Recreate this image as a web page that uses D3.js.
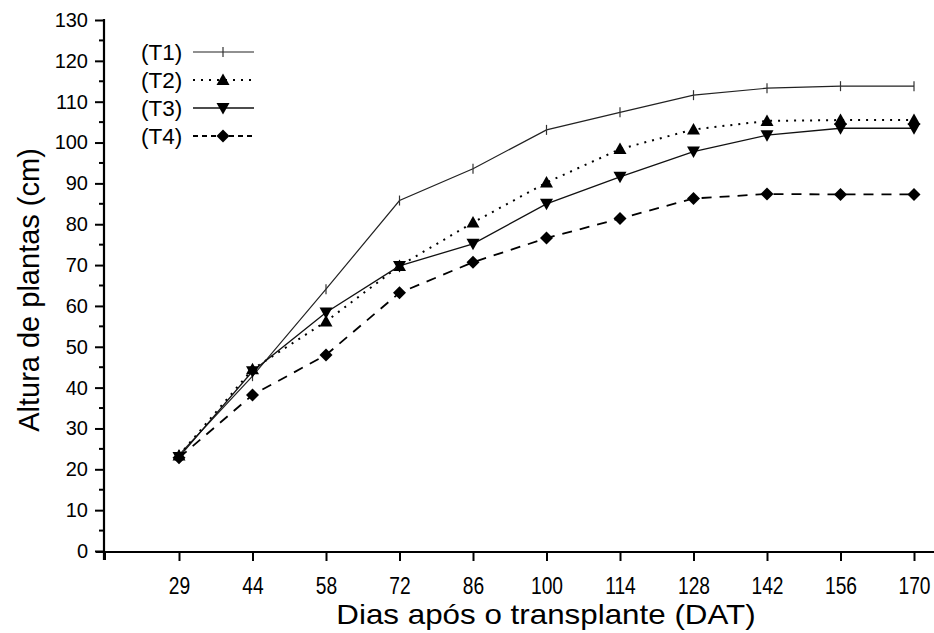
<!DOCTYPE html>
<html><head><meta charset="utf-8">
<script src="https://cdn.jsdelivr.net/npm/d3@7"></script>
<style>body{margin:0;background:#fff}svg{display:block}</style>
</head><body>
<svg id="c" width="934" height="633"></svg>
<script>
const days = ["29","44","58","72","86","100","114","128","142","156","170"];
const T1 = [23.5, 42.8, 64.1, 85.8, 93.6, 103.1, 107.4, 111.6, 113.3, 113.8, 113.8];
const T2 = [23.4, 44.5, 56.2, 69.8, 80.4, 90.2, 98.4, 103.2, 105.3, 105.5, 105.5];
const T3 = [23.0, 44.0, 58.4, 69.8, 75.2, 85.0, 91.6, 97.8, 101.8, 103.5, 103.5];
const T4 = [22.8, 38.2, 48.0, 63.2, 70.7, 76.6, 81.4, 86.3, 87.4, 87.3, 87.3];
const seriesNames = ["(T1)","(T2)","(T3)","(T4)"];
const yTicks = d3.range(0, 131, 10);
const FONT = "'Liberation Sans',Arial,sans-serif";

const svg = d3.select("#c");
const x = d3.scaleLinear().domain([-1, 10]).range([105.5, 914]);
const y = d3.scaleLinear().domain([0, 130]).range([551, 20]);

// axes
const yAxis = d3.axisLeft(y).tickValues(yTicks).tickSize(9).tickPadding(7);
const gy = svg.append("g").attr("transform","translate(104,0)").call(yAxis);
gy.select(".domain").remove();
gy.selectAll(".tick line").attr("stroke","#000").attr("stroke-width",2);
gy.selectAll(".tick text").attr("font-family",FONT).attr("font-size",20).attr("fill","#000");
// minor y ticks
svg.append("g").selectAll("line").data(d3.range(5,130,10)).join("line")
  .attr("x1",99).attr("x2",104).attr("y1",d=>y(d)).attr("y2",d=>y(d))
  .attr("stroke","#000").attr("stroke-width",2);

const xAxis = d3.axisBottom(x).tickValues(d3.range(0, days.length)).tickFormat(i=>days[i]).tickSize(9).tickPadding(12);
const gx = svg.append("g").attr("transform","translate(0,552)").call(xAxis);
gx.select(".domain").remove();
gx.selectAll(".tick line").attr("stroke","#000").attr("stroke-width",2);
gx.selectAll(".tick text").attr("font-family",FONT).attr("font-size",24).attr("fill","#000")
  .attr("dy",null).attr("y",42).attr("transform","scale(0.8,1)");
// extra bottom tick at origin
svg.append("line").attr("x1",105).attr("x2",105).attr("y1",552).attr("y2",560).attr("stroke","#000").attr("stroke-width",2);

// axis lines
svg.append("line").attr("x1",104).attr("x2",104).attr("y1",19).attr("y2",560).attr("stroke","#000").attr("stroke-width",2.2);
svg.append("line").attr("x1",96).attr("x2",934).attr("y1",552).attr("y2",552).attr("stroke","#000").attr("stroke-width",2.2);

// titles
svg.append("text").attr("transform","translate(546,624) scale(1.12,1)").attr("text-anchor","middle")
  .attr("font-family",FONT).attr("font-size",28).text("Dias após o transplante (DAT)");
svg.append("text").attr("transform","translate(39,290) rotate(-90)").attr("text-anchor","middle")
  .attr("font-family",FONT).attr("font-size",29).text("Altura de plantas (cm)");

// series
const styles = [
  {data:T1, dash:null, w:1.2, color:"#222", marker:"plus"},
  {data:T2, dash:"2,6", w:2, color:"#000", marker:"up"},
  {data:T3, dash:null, w:1.3, color:"#111", marker:"down"},
  {data:T4, dash:"10,8", w:1.8, color:"#000", marker:"diamond"}
];
const line = d3.line().x((d,i)=>x(i)).y(d=>y(d));
function marker(g, type, cx, cy){
  if(type==="plus"){
    g.append("line").attr("x1",cx).attr("x2",cx).attr("y1",cy-5).attr("y2",cy+5).attr("stroke","#333").attr("stroke-width",1.2);
  } else if(type==="up"){
    g.append("path").attr("d",`M${cx},${cy-6.5}L${cx+6.5},${cy+5}L${cx-6.5},${cy+5}Z`).attr("fill","#000");
  } else if(type==="down"){
    g.append("path").attr("d",`M${cx},${cy+6.5}L${cx+6.5},${cy-5}L${cx-6.5},${cy-5}Z`).attr("fill","#000");
  } else {
    g.append("path").attr("d",`M${cx},${cy-6.5}L${cx+6.5},${cy}L${cx},${cy+6.5}L${cx-6.5},${cy}Z`).attr("fill","#000");
  }
}
styles.forEach(s=>{
  const p = svg.append("path").datum(s.data).attr("d",line).attr("fill","none")
    .attr("stroke",s.color).attr("stroke-width",s.w);
  if(s.dash) p.attr("stroke-dasharray",s.dash);
  const g = svg.append("g");
  s.data.forEach((v,i)=>marker(g,s.marker,x(i),y(v)));
});

// legend
const legY = [52,80,108,136];
styles.forEach((s,k)=>{
  const g = svg.append("g");
  g.append("text").attr("x",141).attr("y",legY[k]+8).attr("font-family",FONT)
    .attr("font-size",22.5).text(seriesNames[k]);
  const l = g.append("line").attr("x1",193).attr("x2",254).attr("y1",legY[k]).attr("y2",legY[k])
    .attr("stroke",s.color).attr("stroke-width",s.w);
  if(s.dash) l.attr("stroke-dasharray", s.marker==="diamond" ? "5,4" : s.dash);
  marker(g,s.marker,223,legY[k]);
});
</script>
</body></html>
